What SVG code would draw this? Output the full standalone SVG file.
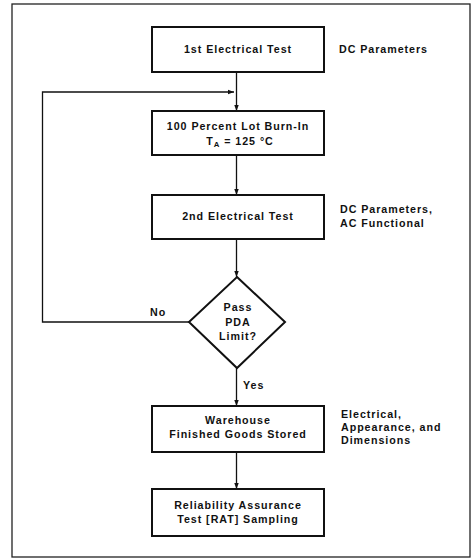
<svg xmlns="http://www.w3.org/2000/svg" width="472" height="558" viewBox="0 0 472 558">
<defs>
<style>
.bg{fill:#ffffff}
.frame{fill:none;stroke:#222;stroke-width:1.3}
.box{fill:#ffffff;stroke:#111;stroke-width:2}
.ln{fill:none;stroke:#111;stroke-width:1.3}
text{font-family:"Liberation Sans",Arial,Helvetica,sans-serif;font-weight:bold;font-size:10.7px;letter-spacing:0.95px;fill:#111}
.c{text-anchor:middle}
</style>
<marker id="ah" markerWidth="7" markerHeight="6" refX="6.5" refY="3" orient="auto" markerUnits="userSpaceOnUse">
<path d="M0,0.6 L6.5,3 L0,5.4 Z" fill="#111"/>
</marker>
</defs>
<rect class="bg" x="0" y="0" width="472" height="558"/>
<rect class="frame" x="12" y="4" width="458" height="553"/>

<g id="connectors">
<path class="ln" d="M236.5,72 V111" marker-end="url(#ah)"/>
<path class="ln" d="M236.5,155 V195" marker-end="url(#ah)"/>
<path class="ln" d="M236.5,239 V277" marker-end="url(#ah)"/>
<path class="ln" d="M236.5,368 V406" marker-end="url(#ah)"/>
<path class="ln" d="M236.5,452 V489" marker-end="url(#ah)"/>
<path class="ln" d="M189,322 H42.5 V92 H234" marker-end="url(#ah)"/>
<text x="150" y="316">No</text>
<text x="243" y="389">Yes</text>
</g>

<g id="n1">
<rect class="box" x="152" y="27" width="172" height="45"/>
<text class="c" x="238" y="53">1st Electrical Test</text>
</g>
<g id="n1note">
<text x="339" y="53">DC Parameters</text>
</g>

<g id="n2">
<rect class="box" x="152" y="111" width="172" height="44"/>
<text class="c" x="238" y="130">100 Percent Lot Burn-In</text>
<text class="c" x="240" y="145">T<tspan font-size="7.8" dy="2">A</tspan><tspan dy="-2"> = 125 °C</tspan></text>
</g>

<g id="n3">
<rect class="box" x="152" y="195" width="172" height="44"/>
<text class="c" x="238" y="220">2nd Electrical Test</text>
</g>
<g id="n3note">
<text x="340" y="213">DC Parameters,</text>
<text x="340" y="227">AC Functional</text>
</g>

<g id="n4">
<path class="box" d="M237,277 L285,322 L237,368 L189,322 Z"/>
<text class="c" x="238" y="311">Pass</text>
<text class="c" x="238" y="326">PDA</text>
<text class="c" x="238" y="340">Limit?</text>
</g>

<g id="n5">
<rect class="box" x="152" y="406" width="172" height="46"/>
<text class="c" x="238" y="424">Warehouse</text>
<text class="c" x="238" y="438">Finished Goods Stored</text>
</g>
<g id="n5note">
<text x="341" y="418">Electrical,</text>
<text x="341" y="431">Appearance, and</text>
<text x="341" y="444">Dimensions</text>
</g>

<g id="n6">
<rect class="box" x="152" y="489" width="172" height="47"/>
<text class="c" x="238" y="509">Reliability Assurance</text>
<text class="c" x="238" y="523">Test [RAT] Sampling</text>
</g>
</svg>
